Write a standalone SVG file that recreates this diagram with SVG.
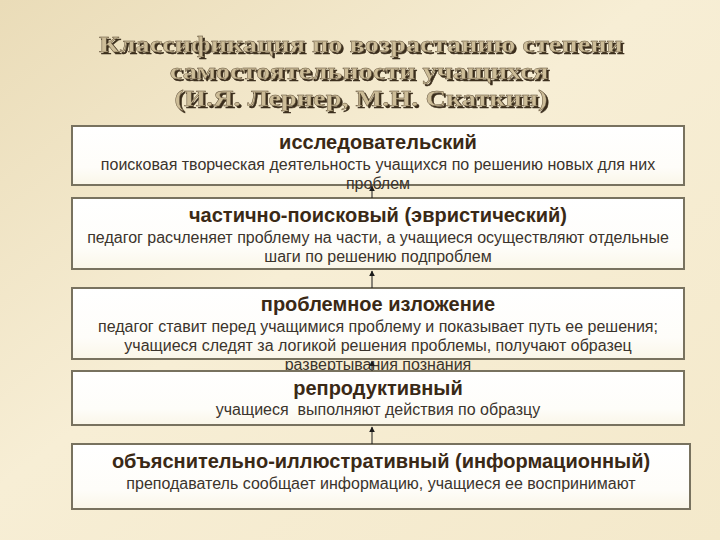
<svg xmlns="http://www.w3.org/2000/svg" width="720" height="540" viewBox="0 0 720 540">
<defs>
<linearGradient id="bg" x1="0" y1="0" x2="1" y2="1">
<stop offset="0" stop-color="#eadcb8"/>
<stop offset="0.45" stop-color="#f7eed5"/>
<stop offset="1" stop-color="#f4e9cb"/>
</linearGradient>
<linearGradient id="boxfill" x1="0" y1="0" x2="0" y2="1">
<stop offset="0" stop-color="#ffffff"/>
<stop offset="0.7" stop-color="#fefdf9"/>
<stop offset="1" stop-color="#faf6e8"/>
</linearGradient>
<filter id="emboss" x="-5%" y="-20%" width="110%" height="140%">
<feOffset in="SourceAlpha" dx="1.6" dy="1.6" result="off"/>
<feFlood flood-color="#3a2d1c"/>
<feComposite in2="off" operator="in" result="shadow"/>
<feMerge><feMergeNode in="shadow"/><feMergeNode in="SourceGraphic"/></feMerge>
</filter>
<marker id="ah" viewBox="0 0 10 10" refX="9" refY="5" markerWidth="6" markerHeight="6" orient="auto" markerUnits="userSpaceOnUse">
<path d="M0,0 L10,5 L0,10 z" fill="#1a1a1a"/>
</marker>
<style>
.box{fill:url(#boxfill);stroke:#78725f;stroke-width:2}
.h{font-family:"Liberation Sans",Arial,sans-serif;font-weight:bold;font-size:20px;fill:#3a2916;text-anchor:middle}
.b{font-family:"Liberation Sans",Arial,sans-serif;font-size:16px;fill:#3b342c;text-anchor:middle}
.t{font-family:"Liberation Serif","Times New Roman",serif;font-weight:bold;font-size:24px;text-anchor:middle;fill:#cdbd98;stroke:#5a4a34;stroke-width:0.4}
.conn{stroke:#1a1a1a;stroke-width:1;fill:none;marker-end:url(#ah)}
</style>
</defs>
<rect x="0" y="0" width="720" height="540" fill="url(#bg)"/>
<g id="title" filter="url(#emboss)">
<text class="t" transform="translate(361,52) scale(1.18,1)">Классификация по возрастанию степени</text>
<text class="t" transform="translate(359,79) scale(1.18,1)">самостоятельности учащихся</text>
<text class="t" transform="translate(361,106) scale(1.18,1)">(И.Я. Лернер, М.Н. Скаткин)</text>
</g>
<g id="node-research">
<rect class="box" x="72" y="126" width="612" height="59"/>
<text class="h" x="378" y="149">исследовательский</text>
<text class="b" x="378" y="170">поисковая творческая деятельность учащихся по решению новых для них</text>
<text class="b" x="378" y="189">проблем</text>
</g>
<g id="node-heuristic">
<rect class="box" x="72" y="198" width="612" height="71"/>
<text class="h" x="378" y="222">частично-поисковый (эвристический)</text>
<text class="b" x="378" y="243">педагог расчленяет проблему на части, а учащиеся осуществляют отдельные</text>
<text class="b" x="378" y="262">шаги по решению подпроблем</text>
</g>
<g id="node-problem">
<rect class="box" x="72" y="288" width="612" height="71"/>
<text class="h" x="378" y="311">проблемное изложение</text>
<text class="b" x="378" y="332">педагог ставит перед учащимися проблему и показывает путь ее решения;</text>
<text class="b" x="378" y="351">учащиеся следят за логикой решения проблемы, получают образец</text>
<text class="b" x="378" y="370">развертывания познания</text>
</g>
<g id="node-reproductive">
<rect class="box" x="72" y="371" width="612" height="54"/>
<text class="h" x="378" y="395">репродуктивный</text>
<text class="b" x="378" y="415" xml:space="preserve">учащиеся  выполняют действия по образцу</text>
</g>
<g id="node-explanatory">
<rect class="box" x="72" y="444" width="618" height="65"/>
<text class="h" x="381" y="468">объяснительно-иллюстративный (информационный)</text>
<text class="b" x="381" y="489">преподаватель сообщает информацию, учащиеся ее воспринимают</text>
</g>
<g id="connectors">
<line class="conn" x1="372" y1="198" x2="372" y2="186"/>
<line class="conn" x1="372" y1="288" x2="372" y2="271"/>
<line class="conn" x1="372" y1="371" x2="372" y2="361"/>
<line class="conn" x1="372" y1="444" x2="372" y2="427"/>
</g>
</svg>
